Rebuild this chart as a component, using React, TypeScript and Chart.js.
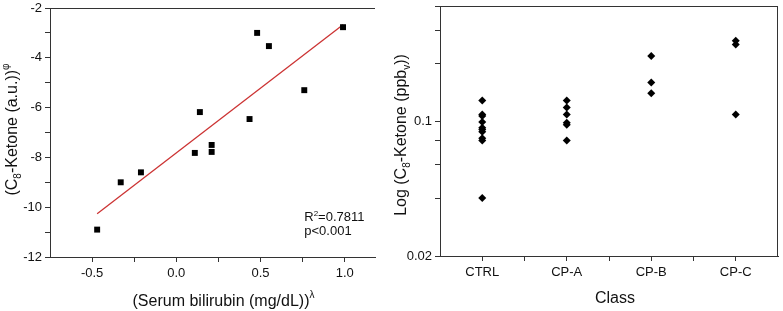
import React, { useEffect, useRef } from "react";
import { Chart, registerables } from "chart.js";
Chart.register(...registerables);

const FONT = "'Liberation Sans', Arial, Helvetica, sans-serif";
const AXIS = "#333333";
const TEXT = "#111111";

// ---- Left panel: bilirubin vs C8-ketone (transformed) ----
const bilirubinX = [-0.47, -0.33, -0.21, 0.11, 0.14, 0.21, 0.21, 0.435, 0.48, 0.55, 0.76, 0.99];
const ketoneY = [-10.9, -9.0, -8.6, -7.82, -6.18, -7.5, -7.78, -6.46, -3.0, -3.53, -5.3, -2.77];
const fitX = [-0.47, 0.99];
const fitY = [-10.26, -2.67];
const leftXTicks = [-0.5, -0.25, 0, 0.25, 0.5, 0.75, 1.0];
const leftXLabels = ["-0.5", "", "0.0", "", "0.5", "", "1.0"];
const leftYTicks = [-12, -11, -10, -9, -8, -7, -6, -5, -4, -3, -2];
const leftYLabels = ["-12", "", "-10", "", "-8", "", "-6", "", "-4", "", "-2"];
const fitLabel1 = "=0.7811";
const fitLabel2 = "p<0.001";

// ---- Right panel: class vs C8-ketone (log) ----
const categories = ["CTRL", "CP-A", "CP-B", "CP-C"];
const ctrlValues = [0.129, 0.109, 0.107, 0.0995, 0.093, 0.091, 0.0887, 0.082, 0.0797, 0.0401];
const cpaValues = [0.129, 0.1185, 0.109, 0.0988, 0.0964, 0.0797];
const cpbValues = [0.22, 0.16, 0.1404];
const cpcValues = [0.264, 0.252, 0.109];
const rightYTicks = [0.02, 0.04, 0.06, 0.08, 0.1, 0.2, 0.3, 0.4];
const rightYLabels = ["0.02", "", "", "", "0.1", "", "", ""];
const rightXTicks = [0, 0.5, 1, 1.5, 2, 2.5, 3];

type Seg = { t: string; s: number; dy: number };

function drawRich(ctx: CanvasRenderingContext2D, segs: Seg[], x: number, y: number, rot: boolean, align: "center" | "left" = "center") {
  ctx.save();
  ctx.translate(x, y);
  if (rot) ctx.rotate(-Math.PI / 2);
  ctx.textBaseline = "alphabetic";
  ctx.textAlign = "left";
  ctx.fillStyle = TEXT;
  let total = 0;
  const widths = segs.map((sg) => {
    ctx.font = `${sg.s}px ${FONT}`;
    const w = ctx.measureText(sg.t).width;
    total += w;
    return w;
  });
  let cx = align === "center" ? -total / 2 : 0;
  segs.forEach((sg, i) => {
    ctx.font = `${sg.s}px ${FONT}`;
    ctx.fillText(sg.t, cx, sg.dy);
    cx += widths[i];
  });
  ctx.restore();
}

const framePlugin = (right: boolean) => ({
  id: "frame",
  afterDraw(chart: any) {
    const { ctx, chartArea } = chart;
    ctx.save();
    ctx.strokeStyle = AXIS;
    ctx.lineWidth = 1;
    ctx.beginPath();
    ctx.moveTo(chartArea.left, chartArea.top + 0.5);
    ctx.lineTo(chartArea.right, chartArea.top + 0.5);
    if (right) {
      ctx.moveTo(chartArea.right - 0.5, chartArea.top);
      ctx.lineTo(chartArea.right - 0.5, chartArea.bottom);
    }
    ctx.stroke();
    ctx.restore();
  },
});

const leftTextPlugin = {
  id: "leftText",
  afterDraw(chart: any) {
    const { ctx, chartArea, scales } = chart;
    const cx = (chartArea.left + chartArea.right) / 2 + 11;
    drawRich(ctx, [
      { t: "(Serum bilirubin (mg/dL))", s: 16, dy: 0 },
      { t: "λ", s: 10, dy: -8 },
    ], cx, 306, false);
    const cy = (chartArea.top + chartArea.bottom) / 2 - 3;
    drawRich(ctx, [
      { t: "(C", s: 16, dy: 0 },
      { t: "8", s: 10, dy: 4 },
      { t: "-Ketone (a.u.))", s: 16, dy: 0 },
      { t: "φ", s: 10, dy: -8 },
    ], 17, cy, true);
    const ax = scales.x.getPixelForValue(0.76);
    drawRich(ctx, [
      { t: "R", s: 13, dy: 0 },
      { t: "2", s: 8, dy: -5 },
      { t: fitLabel1, s: 13, dy: 0 },
    ], ax, scales.y.getPixelForValue(-10.36) + 5, false, "left");
    drawRich(ctx, [{ t: fitLabel2, s: 13, dy: 0 }], ax, scales.y.getPixelForValue(-10.93) + 5, false, "left");
  },
};

const rightTextPlugin = {
  id: "rightText",
  afterDraw(chart: any) {
    const { ctx, chartArea } = chart;
    const cx = (chartArea.left + chartArea.right) / 2 + 6;
    drawRich(ctx, [{ t: "Class", s: 16, dy: 0 }], cx, 303, false);
    const cy = (chartArea.top + chartArea.bottom) / 2 + 4;
    drawRich(ctx, [
      { t: "Log (C", s: 16, dy: 0 },
      { t: "8", s: 10, dy: 4 },
      { t: "-Ketone (ppb", s: 16, dy: 0 },
      { t: "v", s: 10, dy: 4 },
      { t: "))", s: 16, dy: 0 },
    ], 16, cy, true);
  },
};

const tickFont = { family: FONT, size: 13, lineHeight: 1 };

export default function App() {
  const leftRef = useRef<HTMLCanvasElement>(null);
  const rightRef = useRef<HTMLCanvasElement>(null);

  useEffect(() => {
    const left = new Chart(leftRef.current!, {
      type: "scatter",
      data: {
        datasets: [
          {
            type: "scatter",
            data: bilirubinX.map((x, i) => ({ x, y: ketoneY[i] })),
            pointStyle: "rect",
            pointRadius: 4.2,
            pointBorderWidth: 0,
            backgroundColor: "#000",
            borderColor: "#000",
          },
          {
            type: "line",
            data: fitX.map((x, i) => ({ x, y: fitY[i] })),
            showLine: true,
            pointRadius: 0,
            borderColor: "#cc3333",
            borderWidth: 1.3,
            fill: false,
          } as any,
        ],
      },
      options: {
        animation: false,
        responsive: false,
        layout: { padding: { top: 8, right: 15, left: 0, bottom: 0 } },
        plugins: { legend: { display: false }, tooltip: { enabled: false } },
        scales: {
          x: {
            type: "linear",
            min: -0.75,
            max: 1.18,
            afterBuildTicks: (s: any) => { s.ticks = leftXTicks.map((v) => ({ value: v })); },
            afterFit: (s: any) => { s.height = 54; s.paddingLeft = 0; s.paddingRight = 0; },
            ticks: { font: tickFont, color: TEXT, padding: 5, maxRotation: 0, autoSkip: false, callback: (_v: any, i: number) => leftXLabels[i] },
            grid: { drawOnChartArea: false, tickLength: 5, color: AXIS },
            border: { color: AXIS, width: 1 },
          },
          y: {
            type: "linear",
            min: -12,
            max: -2,
            afterBuildTicks: (s: any) => { s.ticks = leftYTicks.map((v) => ({ value: v })); },
            afterFit: (s: any) => { s.width = 50; s.paddingTop = 0; s.paddingBottom = 0; },
            ticks: { font: tickFont, color: TEXT, padding: 3, autoSkip: false, callback: (_v: any, i: number) => leftYLabels[i] },
            grid: { drawOnChartArea: false, tickLength: 5, color: AXIS },
            border: { color: AXIS, width: 1 },
          },
        },
      },
      plugins: [framePlugin(false), leftTextPlugin],
    });

    const groups = [ctrlValues, cpaValues, cpbValues, cpcValues];
    const right = new Chart(rightRef.current!, {
      type: "scatter",
      data: {
        datasets: [
          {
            data: groups.flatMap((vals, gi) => vals.map((v) => ({ x: gi, y: v }))),
            pointStyle: "rectRot",
            pointRadius: 4,
            pointBorderWidth: 0,
            backgroundColor: "#000",
            borderColor: "#000",
          },
        ],
      },
      options: {
        animation: false,
        responsive: false,
        layout: { padding: { top: 6, right: 5, left: 0, bottom: 0 } },
        plugins: { legend: { display: false }, tooltip: { enabled: false } },
        scales: {
          x: {
            type: "linear",
            min: -0.5,
            max: 3.5,
            afterBuildTicks: (s: any) => { s.ticks = rightXTicks.map((v) => ({ value: v })); },
            afterFit: (s: any) => { s.height = 55; s.paddingLeft = 0; s.paddingRight = 0; },
            ticks: {
              font: tickFont, color: TEXT, padding: 5, maxRotation: 0, autoSkip: false,
              callback: (v: any) => (Number.isInteger(v) ? categories[v] : ""),
            },
            grid: { drawOnChartArea: false, tickLength: 5, color: AXIS },
            border: { color: AXIS, width: 1 },
          },
          y: {
            type: "logarithmic",
            min: 0.02,
            max: 0.4,
            afterBuildTicks: (s: any) => { s.ticks = rightYTicks.map((v) => ({ value: v })); },
            afterFit: (s: any) => { s.width = 50; s.paddingTop = 0; s.paddingBottom = 0; },
            ticks: { font: tickFont, color: TEXT, padding: 3, autoSkip: false, callback: (_v: any, i: number) => rightYLabels[i] },
            grid: { drawOnChartArea: false, tickLength: 5, color: AXIS },
            border: { color: AXIS, width: 1 },
          },
        },
      },
      plugins: [framePlugin(true), rightTextPlugin],
    });

    return () => {
      left.destroy();
      right.destroy();
    };
  }, []);

  return (
    <div style={{ position: "fixed", left: 0, top: 0, width: 783, height: 311, background: "#fff" }}>
      <canvas ref={leftRef} width={390} height={311} style={{ position: "absolute", left: 0, top: 0, display: "block" }} />
      <canvas ref={rightRef} width={393} height={311} style={{ position: "absolute", left: 390, top: 0, display: "block" }} />
    </div>
  );
}
